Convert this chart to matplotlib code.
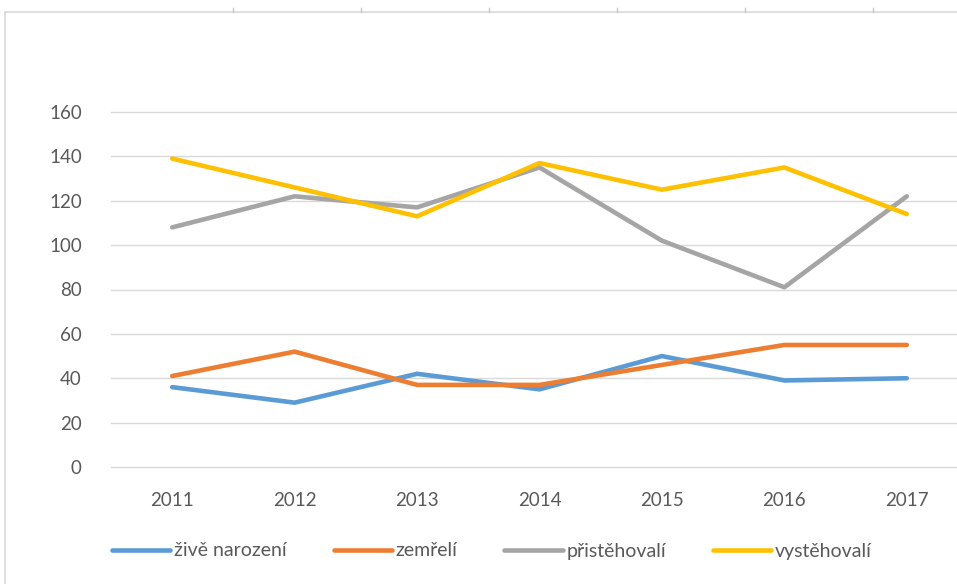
import matplotlib
matplotlib.use("Agg")
import matplotlib.pyplot as plt
from matplotlib.lines import Line2D

plt.rcParams["font.family"] = ["Lato", "DejaVu Sans"]

years = ["2011", "2012", "2013", "2014", "2015", "2016", "2017"]
zive_narozeni = [36, 29, 42, 35, 50, 39, 40]
zemreli = [41, 52, 37, 37, 46, 55, 55]
pristehovali = [108, 122, 117, 135, 102, 81, 122]
vystehovali = [139, 126, 113, 137, 125, 135, 114]

series = [
    ("živě narození", zive_narozeni, "#5B9BD5"),
    ("zemřelí", zemreli, "#ED7D31"),
    ("přistěhovalí", pristehovali, "#A5A5A5"),
    ("vystěhovalí", vystehovali, "#FFC000"),
]

text_grey = "#595959"
grid_grey = "#D9D9D9"

fig = plt.figure(figsize=(9.57, 5.84), dpi=100)
ax = fig.add_axes([111 / 957, 1 - 467 / 584, 857 / 957, 355 / 584])

x = range(len(years))
for label, vals, color in series:
    ax.plot(x, vals, color=color, lw=3.3, label=label,
            solid_capstyle="round", solid_joinstyle="round")

ax.set_xlim(-0.5, len(years) - 0.5)
ax.set_ylim(0, 160)
ax.set_yticks(range(0, 161, 20))
ax.set_xticks(list(x))
ax.set_xticklabels(years)
ax.yaxis.grid(True, color=grid_grey, lw=1.0)
for gl in ax.get_ygridlines():
    gl.set_clip_on(False)
ax.set_axisbelow(True)
for s in ax.spines.values():
    s.set_visible(False)
ax.tick_params(axis="both", length=0, labelsize=13.5, colors=text_grey)
ax.tick_params(axis="y", pad=21)
ax.tick_params(axis="x", pad=18)

leg = fig.legend(loc="center", bbox_to_anchor=(492 / 957, 1 - 551 / 584),
                 ncol=4, frameon=False, fontsize=14, handlelength=3.0,
                 handletextpad=0.2, columnspacing=2.4)
for t in leg.get_texts():
    t.set_color(text_grey)

# chart-area frame (left and top edge) with small marks above it
fig.add_artist(Line2D([5 / 957, 5 / 957], [0, 1 - 12 / 584],
                      transform=fig.transFigure, color=grid_grey, lw=1.2))
fig.add_artist(Line2D([5 / 957, 1], [1 - 12 / 584, 1 - 12 / 584],
                      transform=fig.transFigure, color=grid_grey, lw=1.2))
for px in [233, 361, 489, 617, 745, 873]:
    fig.add_artist(Line2D([px / 957, px / 957], [1 - 8 / 584, 1 - 12 / 584],
                          transform=fig.transFigure, color="#C8C8C8", lw=1.0))

fig.savefig("out.png", dpi=100)
